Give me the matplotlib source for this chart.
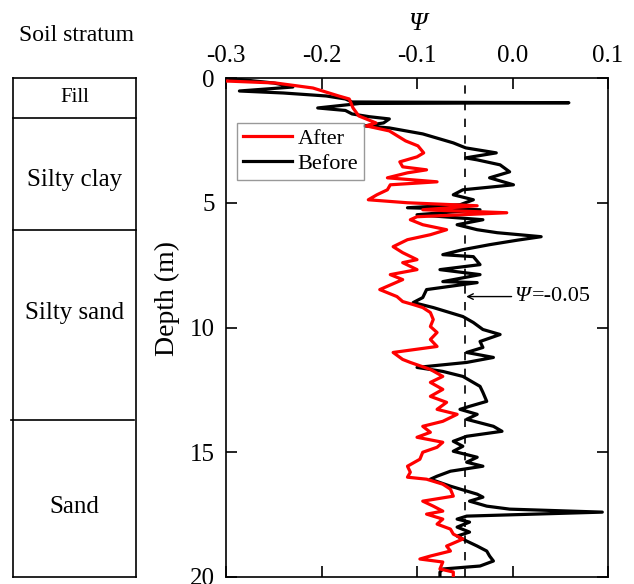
import matplotlib
matplotlib.use("Agg")
import matplotlib.pyplot as plt

plt.rcParams['font.family'] = ['Liberation Serif', 'DejaVu Serif']

# Before (black) curve: depth (m), psi
before_depth = [0.0, 0.2, 0.36, 0.52, 0.6, 0.72, 0.84, 0.96, 0.99, 1.02, 1.2, 1.3, 1.44, 1.55,
                1.64, 1.8, 1.92, 2.0, 2.24, 2.6, 2.8, 3.0, 3.2, 3.28, 3.48, 3.76, 4.0, 4.28,
                4.48, 4.68, 4.88, 5.08, 5.2, 5.28, 5.48, 5.68, 5.88, 6.08, 6.2, 6.36, 6.5,
                6.68, 6.88, 7.08, 7.16, 7.48, 7.68, 7.88, 8.16, 8.2, 8.48, 8.8, 9.0, 9.2,
                9.56, 9.8, 10.08, 10.28, 10.56, 10.8, 11.0, 11.2, 11.4, 11.6, 11.76, 11.96,
                12.36, 12.6, 12.96, 13.16, 13.28, 13.48, 13.68, 13.96, 14.16, 14.36, 14.56,
                14.76, 14.96, 15.2, 15.4, 15.56, 15.76, 15.96, 16.08, 16.36, 16.68, 16.8,
                16.96, 17.16, 17.28, 17.4, 17.56, 17.68, 17.8, 18.0, 18.2, 18.36, 18.56,
                18.76, 18.96, 19.16, 19.36, 19.56, 19.68, 19.8, 20.0]
before_psi = [-0.300, -0.250, -0.230, -0.286, -0.240, -0.195, -0.175, -0.168, 0.059, -0.160,
              -0.204, -0.175, -0.168, -0.150, -0.129, -0.135, -0.155, -0.129, -0.094, -0.062,
              -0.049, -0.017, -0.049, -0.037, -0.013, -0.003, -0.024, 0.001, -0.052, -0.062,
              -0.041, -0.055, -0.110, -0.034, -0.100, -0.031, -0.058, -0.037, -0.016, 0.030,
              0.005, -0.024, -0.052, -0.073, -0.041, -0.034, -0.076, -0.034, -0.073, -0.037,
              -0.090, -0.094, -0.104, -0.083, -0.052, -0.041, -0.031, -0.013, -0.034, -0.031,
              -0.048, -0.020, -0.048, -0.100, -0.073, -0.052, -0.034, -0.031, -0.027, -0.045,
              -0.055, -0.037, -0.048, -0.020, -0.011, -0.048, -0.062, -0.052, -0.062, -0.037,
              -0.048, -0.031, -0.065, -0.079, -0.086, -0.065, -0.037, -0.031, -0.045, -0.027,
              -0.003, 0.094, -0.048, -0.058, -0.045, -0.058, -0.045, -0.058, -0.048, -0.037,
              -0.027, -0.024, -0.020, -0.034, -0.073, -0.076, -0.076]

# After (red) curve
after_depth = [0.12, 0.2, 0.4, 0.72, 0.84, 1.2, 1.52, 1.8, 1.92, 2.12, 2.52, 2.72, 3.0, 3.16,
               3.36, 3.56, 3.68, 3.8, 4.0, 4.16, 4.28, 4.48, 4.68, 4.88, 5.0, 5.12, 5.28,
               5.4, 5.56, 5.68, 5.88, 6.08, 6.28, 6.48, 6.76, 7.0, 7.28, 7.4, 7.68, 7.88,
               8.08, 8.48, 8.76, 8.96, 9.08, 9.2, 9.4, 9.68, 9.96, 10.2, 10.48, 10.76, 11.0,
               11.28, 11.4, 11.68, 11.96, 12.2, 12.48, 12.76, 13.0, 13.28, 13.48, 13.76,
               13.96, 14.2, 14.4, 14.6, 14.8, 15.0, 15.28, 15.56, 15.8, 16.0, 16.08, 16.28,
               16.48, 16.76, 16.96, 17.16, 17.36, 17.48, 17.68, 17.88, 18.08, 18.28, 18.48,
               18.76, 18.96, 19.16, 19.28, 19.4, 19.68, 19.8, 20.0]
after_psi = [-0.300, -0.248, -0.209, -0.182, -0.171, -0.167, -0.161, -0.143, -0.153, -0.129,
             -0.112, -0.099, -0.093, -0.100, -0.118, -0.115, -0.090, -0.110, -0.131, -0.079,
             -0.128, -0.131, -0.142, -0.151, -0.110, -0.037, -0.094, -0.006, -0.100, -0.107,
             -0.094, -0.069, -0.086, -0.110, -0.125, -0.115, -0.100, -0.115, -0.100, -0.128,
             -0.115, -0.139, -0.121, -0.115, -0.104, -0.094, -0.086, -0.083, -0.086, -0.079,
             -0.086, -0.079, -0.125, -0.115, -0.107, -0.086, -0.073, -0.086, -0.073, -0.086,
             -0.069, -0.079, -0.058, -0.073, -0.094, -0.086, -0.100, -0.073, -0.079, -0.094,
             -0.097, -0.110, -0.107, -0.110, -0.090, -0.073, -0.065, -0.062, -0.094, -0.083,
             -0.073, -0.090, -0.073, -0.079, -0.065, -0.062, -0.052, -0.069, -0.065, -0.086,
             -0.097, -0.073, -0.076, -0.062, -0.062]

# soil layers
layer_names = ['Fill', 'Silty clay', 'Silty sand', 'Sand']
layer_tops = [0.0, 1.6, 6.1, 13.7]
layer_label_depth = [0.8, 4.1, 9.4, 17.2]
layer_sizes = [15, 18, 18, 18]

psi_ref = -0.05

fig = plt.figure(figsize=(6.34, 5.84), dpi=100)

# soil column
sax = fig.add_axes([0.0205, 0.012, 0.194, 0.8544])
sax.set_xlim(0, 1)
sax.set_ylim(20, 0)
sax.set_xticks([])
sax.set_yticks([])
for sp in sax.spines.values():
    sp.set_linewidth(1.2)
for i, name in enumerate(layer_names):
    if i > 0:
        x0 = -0.02 if name == 'Sand' else 0
        x1 = 0.98 if name == 'Sand' else 1
        sax.plot([x0, x1], [layer_tops[i], layer_tops[i]], color='black', lw=1.2, clip_on=False)
    sax.text(0.5, layer_label_depth[i], name, ha='center', va='center', fontsize=layer_sizes[i])
fig.text(0.121, 0.94, 'Soil stratum', ha='center', va='center', fontsize=17)

# main plot
ax = fig.add_axes([0.3565, 0.012, 0.6025, 0.8544])
ax.plot(before_psi, before_depth, color='black', lw=2.3, label='Before', zorder=2)
ax.plot(after_psi, after_depth, color='red', lw=2.3, label='After', zorder=3)
ax.axvline(psi_ref, color='black', lw=1.2, ls=(0, (5, 5)), zorder=1)

ax.set_xlim(-0.3, 0.1)
ax.set_ylim(20, 0)
ax.set_xticks([-0.3, -0.2, -0.1, 0.0, 0.1])
ax.set_xticklabels(['-0.3', '-0.2', '-0.1', '0.0', '0.1'])
ax.set_yticks([0, 5, 10, 15, 20])
ax.xaxis.tick_top()
ax.xaxis.set_label_position('top')
ax.tick_params(axis='x', which='both', direction='in', top=True, bottom=True, labeltop=True,
               labelbottom=False, length=8, width=1.2, labelsize=18, pad=8)
ax.tick_params(axis='y', which='both', direction='in', left=True, right=True, length=8,
               width=1.2, labelsize=18, pad=8)
for sp in ax.spines.values():
    sp.set_linewidth(1.2)
ax.set_xlabel('Ψ', fontsize=19, fontstyle='italic', labelpad=11)
ax.set_ylabel('Depth (m)', fontsize=20)
ax.yaxis.set_label_coords(-0.12, 0.559)

h, l = ax.get_legend_handles_labels()
leg = ax.legend(h[::-1], l[::-1], loc='upper left', bbox_to_anchor=(0.03, 0.91), fontsize=16,
                frameon=True, fancybox=False, edgecolor='gray', handlelength=2.2,
                borderpad=0.25, labelspacing=0.2, handletextpad=0.25, borderaxespad=0)
leg.get_frame().set_linewidth(1.0)

# reference line annotation
ax.annotate('', xy=(-0.0485, 8.76), xytext=(-0.001, 8.76),
            arrowprops=dict(arrowstyle='->', color='black', lw=1.0, shrinkA=0, shrinkB=0))
t1 = ax.text(0.0015, 8.76, 'Ψ', fontsize=16, fontstyle='italic', va='center', ha='left')
ax.annotate('=-0.05', xy=(1, 0.5), xycoords=t1, xytext=(1.5, 0), textcoords='offset points',
            fontsize=16, va='center', ha='left')

fig.savefig('out.png', dpi=100)
